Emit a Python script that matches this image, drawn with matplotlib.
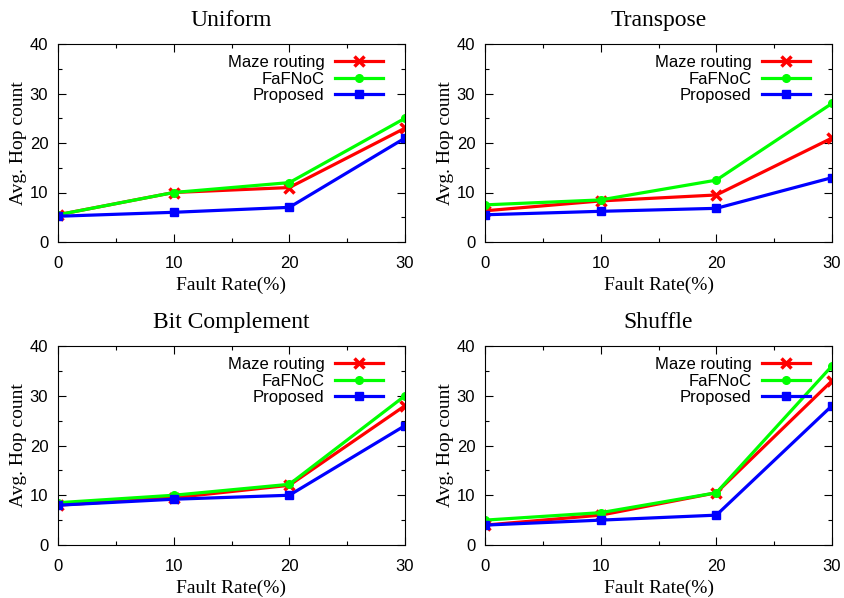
import matplotlib
matplotlib.use("Agg")
import matplotlib.pyplot as plt
from matplotlib.ticker import MultipleLocator

# fault rates on the x axis
fault_rate = [0, 10, 20, 30]

titles = ["Uniform", "Transpose", "Bit Complement", "Shuffle"]

# avg hop count
maze_uniform = [5.5, 10, 11, 23]
fafnoc_uniform = [5.5, 10, 12, 25]
proposed_uniform = [5.2, 6, 7, 21]

maze_transpose = [6.3, 8.3, 9.5, 21]
fafnoc_transpose = [7.5, 8.5, 12.5, 28]
proposed_transpose = [5.5, 6.2, 6.8, 13]

maze_bitcomp = [8, 9.5, 12, 28]
fafnoc_bitcomp = [8.5, 10, 12.2, 30]
proposed_bitcomp = [8, 9.2, 10, 24]

maze_shuffle = [4, 6, 10.5, 33]
fafnoc_shuffle = [5, 6.5, 10.5, 36]
proposed_shuffle = [4, 5, 6, 28]

maze = [maze_uniform, maze_transpose, maze_bitcomp, maze_shuffle]
fafnoc = [fafnoc_uniform, fafnoc_transpose, fafnoc_bitcomp, fafnoc_shuffle]
proposed = [proposed_uniform, proposed_transpose, proposed_bitcomp, proposed_shuffle]

serif = "Liberation Serif"
sans = "Liberation Sans"

fig = plt.figure(figsize=(8.44, 5.98), dpi=100)
W, H = 844.0, 598.0
# axes boxes in pixels: left, top, right, bottom
boxes = [(58, 44, 405, 242), (485, 44, 832, 242),
         (58, 346, 405, 545), (485, 346, 832, 545)]

for i in range(4):
    l, t, r, b = boxes[i]
    ax = fig.add_axes([l / W, (H - b) / H, (r - l) / W, (b - t) / H])
    ax.plot(fault_rate, maze[i], color="#ff0000", lw=2.3, marker="x",
            ms=7, mew=2.5, label="Maze routing")
    ax.plot(fault_rate, fafnoc[i], color="#00ff00", lw=2.3, marker="o",
            ms=5.5, label="FaFNoC")
    ax.plot(fault_rate, proposed[i], color="#0000ff", lw=2.3, marker="s",
            ms=5.5, label="Proposed")
    ax.set_xlim(0, 30)
    ax.set_ylim(0, 40)
    ax.xaxis.set_major_locator(MultipleLocator(10))
    ax.xaxis.set_minor_locator(MultipleLocator(5))
    ax.yaxis.set_major_locator(MultipleLocator(10))
    ax.yaxis.set_minor_locator(MultipleLocator(5))
    ax.tick_params(which="both", direction="in", top=True, right=True,
                   width=0.8)
    ax.tick_params(which="major", length=6, labelsize=12)
    ax.tick_params(axis="y", which="major", pad=7)
    ax.tick_params(axis="x", which="major", pad=10)
    ax.tick_params(which="minor", length=3)
    for lab in ax.get_xticklabels() + ax.get_yticklabels():
        lab.set_fontfamily(sans)
    for sp in ax.spines.values():
        sp.set_linewidth(0.8)
    ax.set_title(titles[i], fontfamily=serif, fontsize=17, pad=13)
    ax.set_xlabel("Fault Rate(%)", fontfamily=serif, fontsize=14, labelpad=4)
    ax.set_ylabel("Avg. Hop count", fontfamily=serif, fontsize=14, labelpad=2)
    ax.legend(loc="upper right", bbox_to_anchor=(0.975, 1.012),
              frameon=False, markerfirst=False,
              numpoints=1, handlelength=2.9, handletextpad=0.6,
              labelspacing=0.1, borderaxespad=0.4,
              prop={"family": sans, "size": 12})

fig.savefig("out.png", dpi=100)
